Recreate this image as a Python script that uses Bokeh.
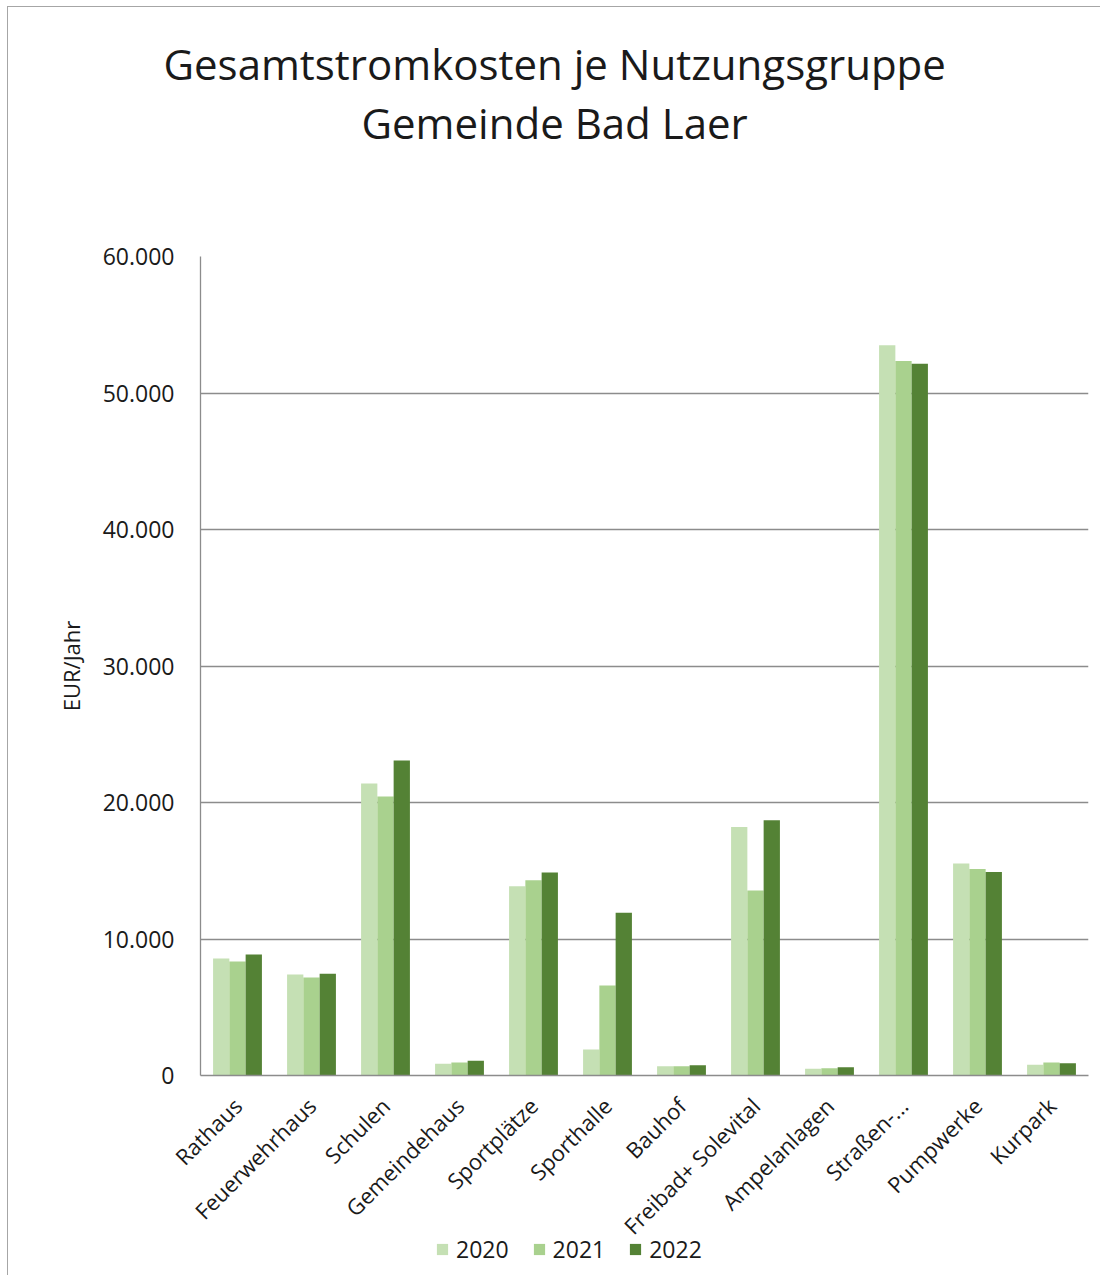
from bokeh.plotting import figure
from bokeh.models import (FactorRange, Range1d, FixedTicker, CustomJSTickFormatter,
                          Legend, LegendItem, Title, ColumnDataSource)
from bokeh.layouts import column
from bokeh.transform import dodge
from bokeh.embed import file_html
from bokeh.resources import INLINE
import math

categories = ["Rathaus", "Feuerwehrhaus", "Schulen", "Gemeindehaus", "Sportplätze",
              "Sporthalle", "Bauhof", "Freibad+ Solevital", "Ampelanlagen",
              "Straßen-...", "Pumpwerke", "Kurpark"]
years = ["2020", "2021", "2022"]
v2020 = [8570, 7400, 21390, 860, 13870, 1900, 680, 18200, 500, 53500, 15540, 780]
v2021 = [8350, 7180, 20440, 950, 14310, 6590, 680, 13560, 530, 52350, 15120, 960]
v2022 = [8860, 7450, 23080, 1075, 14870, 11920, 745, 18700, 600, 52150, 14900, 890]
y_ticks = [0, 10000, 20000, 30000, 40000, 50000, 60000]
title_lines = ["Gesamtstromkosten je Nutzungsgruppe", "Gemeinde Bad Laer"]
y_label = "EUR/Jahr"

colors = ["#C5E0B4", "#A9D18E", "#548235"]
FONT = "Open Sans"
TXT = "#1a1a1a"
GRID = "#8c8c8c"

src = ColumnDataSource(dict(cat=categories, y2020=v2020, y2021=v2021, y2022=v2022))

p = figure(x_range=FactorRange(*categories), y_range=Range1d(0, 60000),
           frame_width=888, frame_height=819, output_backend="svg", toolbar_location=None,
           min_border_left=192, min_border_right=12, min_border_top=249,
           min_border_bottom=0, title=None)
p.outline_line_color = None
p.background_fill_color = "white"
p.border_fill_color = "white"

# spacer between the plot area and the title lines
p.add_layout(Title(text=" ", text_font=FONT, text_font_size="1px", standoff=103), "above")
p.add_layout(Title(text=title_lines[1], align="left",
                   text_font=FONT, text_font_size="42px", text_font_style="normal",
                   text_color=TXT, offset=161, standoff=0), "above")
p.add_layout(Title(text=title_lines[0], align="left", text_font=FONT,
                   text_font_size="42px", text_font_style="normal", text_color=TXT,
                   offset=-37, standoff=0), "above")

bw = 0.22
r1 = p.vbar(x=dodge("cat", -bw, range=p.x_range), top="y2020", width=bw, source=src,
            fill_color=colors[0], line_color=None)
r2 = p.vbar(x=dodge("cat", 0, range=p.x_range), top="y2021", width=bw, source=src,
            fill_color=colors[1], line_color=None)
r3 = p.vbar(x=dodge("cat", bw, range=p.x_range), top="y2022", width=bw, source=src,
            fill_color=colors[2], line_color=None)

p.xgrid.grid_line_color = None
p.ygrid.grid_line_color = GRID
p.ygrid.grid_line_width = 1.3
p.ygrid.ticker = FixedTicker(ticks=y_ticks)

ya = p.yaxis[0]
ya.ticker = FixedTicker(ticks=y_ticks)
ya.formatter = CustomJSTickFormatter(code="return Math.round(tick).toString().replace(/\\B(?=(\\d{3})+(?!\\d))/g, '.');")
ya.axis_line_color = GRID
ya.axis_line_width = 1.3
ya.major_tick_line_color = None
ya.minor_tick_line_color = None
ya.major_tick_out = 0
ya.major_tick_in = 0
ya.major_label_standoff = 26
ya.major_label_text_font = FONT
ya.major_label_text_font_size = "23px"
ya.major_label_text_color = TXT
ya.axis_label = y_label
ya.axis_label_text_font = FONT
ya.axis_label_text_font_size = "22px"
ya.axis_label_text_font_style = "normal"
ya.axis_label_text_color = TXT
ya.axis_label_standoff = 14

xa = p.xaxis[0]
xa.axis_line_color = GRID
xa.axis_line_width = 1.3
xa.major_tick_line_color = None
xa.minor_tick_line_color = None
xa.major_tick_out = 0
xa.major_tick_in = 0
xa.major_label_orientation = math.pi / 4
xa.major_label_standoff = 26
xa.major_label_text_font = FONT
xa.major_label_text_font_size = "22px"
xa.major_label_text_color = TXT

# legend strip below the chart (transparent, slightly overlapping the label area)
p2 = figure(x_range=Range1d(0, 1), y_range=Range1d(0, 1), width=1092, height=46,
            output_backend="svg", toolbar_location=None, min_border=0,
            outline_line_color=None, margin=(-24, 0, 0, 0))
p2.background_fill_alpha = 0
p2.border_fill_alpha = 0
p2.axis.visible = False
p2.grid.visible = False
off = dict(x=[0.5], top=[0])
l1 = p2.vbar(x="x", top="top", width=0.1, source=ColumnDataSource(off), fill_color=colors[0], line_color=None)
l2 = p2.vbar(x="x", top="top", width=0.1, source=ColumnDataSource(off), fill_color=colors[1], line_color=None)
l3 = p2.vbar(x="x", top="top", width=0.1, source=ColumnDataSource(off), fill_color=colors[2], line_color=None)
legend = Legend(items=[LegendItem(label=years[0], renderers=[l1]),
                       LegendItem(label=years[1], renderers=[l2]),
                       LegendItem(label=years[2], renderers=[l3])],
                orientation="horizontal", location=(235, 10),
                glyph_width=14, glyph_height=14, label_standoff=7, spacing=23,
                padding=0, margin=0, border_line_color=None,
                background_fill_alpha=0,
                label_text_font=FONT, label_text_font_size="23px",
                label_text_color=TXT)
p2.add_layout(legend, "center")

layout = column(p, p2, spacing=0,
                styles={"border-top": "1px solid #a6a6a6", "border-left": "1px solid #a6a6a6",
                        "margin-left": "7px", "margin-top": "6px"})

open("out.html", "w").write(file_html(layout, INLINE))
